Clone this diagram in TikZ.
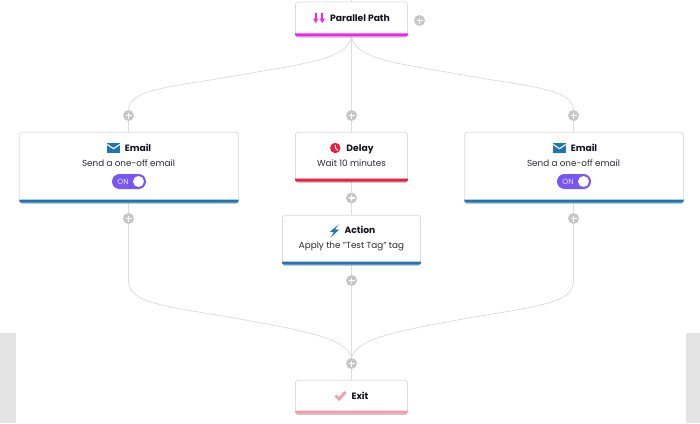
\documentclass[tikz,border=0pt]{standalone}
\usepackage{fontspec}
\setmainfont{Poppins}
\usetikzlibrary{shadows,backgrounds}
\definecolor{linegray}{HTML}{DDDDDD}
\definecolor{plusgray}{HTML}{C6C6C6}
\definecolor{edgegray}{HTML}{DCDCDC}
\definecolor{panelgray}{HTML}{E4E4E4}
\definecolor{inkdark}{HTML}{141420}
\definecolor{inksub}{HTML}{2A2A34}
\definecolor{bandmag}{HTML}{F322F3}
\definecolor{bandblue}{HTML}{1C75B4}
\definecolor{bandred}{HTML}{F2183F}
\definecolor{bandpink}{HTML}{F79BAA}
\definecolor{purple}{HTML}{7A55F5}
\tikzset{
  x=1pt,y=-1pt,
  cardbox/.style={draw=edgegray,line width=.8pt,fill=white,rounded corners=2.5pt,inner sep=0pt,
    drop shadow={shadow xshift=0pt,shadow yshift=-1.5pt,opacity=.22,fill=black}},
  plusnode/.style={circle,fill=plusgray,minimum size=11pt,inner sep=0pt,
    path picture={\draw[white,line width=1.3pt]
      ([xshift=-3pt]path picture bounding box.center)--([xshift=3pt]path picture bounding box.center)
      ([yshift=-3pt]path picture bounding box.center)--([yshift=3pt]path picture bounding box.center);}},
  wire/.style={draw=linegray,line width=.8pt},
  titletext/.style={font=\fontsize{9.2}{11}\selectfont\bfseries,text=inkdark,inner sep=0pt,anchor=base},
  subtext/.style={font=\fontsize{8.8}{10}\selectfont,text=inksub,inner sep=0pt,anchor=base},
  toggle/.style={fill=purple,rounded corners=7.5pt,minimum width=34pt,minimum height=15pt,inner sep=0pt},
  ontext/.style={font=\fontsize{7.5}{8}\selectfont,text=white!85!purple,inner sep=0pt},
  knob/.style={circle,fill=white,minimum size=11pt,inner sep=0pt},
}
\newcommand{\cardband}[2]{%
  \fill[#2] ([yshift=3pt]#1.south west) -- ([yshift=3pt]#1.south east)
    [rounded corners=1.5pt] -- (#1.south east) -- (#1.south west) [sharp corners] -- cycle;}
\newcommand{\mailicon}[2]{%
  \begin{scope}[shift={(#1,#2)}]
    \fill[bandblue] (0,0) rectangle (13,10);
    \draw[white,line width=1.1pt] (-.3,1.2) -- (6.5,5.6) -- (13.3,1.2);
  \end{scope}}
\begin{document}
\begin{tikzpicture}
\useasboundingbox (0,0) rectangle (700,423);
\fill[panelgray] (0,333) rectangle (16,423);
\fill[panelgray] (686,333) rectangle (700,423);

% cards
\node[cardbox,minimum width=112pt,minimum height=34pt] (par) at (351.5,19) {};
\node[cardbox,minimum width=218.5pt,minimum height=70pt] (maila) at (129,167.3) {};
\node[cardbox,minimum width=112pt,minimum height=49pt] (delay) at (351.5,156.8) {};
\node[cardbox,minimum width=218.5pt,minimum height=70pt] (mailb) at (574,167.3) {};
\node[cardbox,minimum width=138pt,minimum height=49pt] (action) at (351.5,239.8) {};
\node[cardbox,minimum width=112pt,minimum height=33pt] (exit) at (351.5,396.8) {};
\cardband{par}{bandmag}
\cardband{maila}{bandblue}
\cardband{delay}{bandred}
\cardband{mailb}{bandblue}
\cardband{action}{bandblue}
\cardband{exit}{bandpink}

% plus nodes
\node[plusnode] (pside) at (419.5,20.5) {};
\node[plusnode] (pa) at (128.5,115.5) {};
\node[plusnode] (pm) at (351.5,115.5) {};
\node[plusnode] (pb) at (573.5,115.5) {};
\node[plusnode] (pc) at (128.5,218.5) {};
\node[plusnode] (pd) at (351.5,198) {};
\node[plusnode] (pe) at (573.5,218.5) {};
\node[plusnode] (pf) at (351.5,280.5) {};
\node[plusnode] (pg) at (351.5,363.5) {};
\coordinate (topend) at (351.5,0);

% connectors
\begin{scope}[on background layer]
  \draw[wire] (topend) -- (par.north);
  \draw[wire] (par.south) -- (pm);
  \draw[wire] (pm) -- (delay.north);
  \draw[wire] (delay.south) -- (pd);
  \draw[wire] (pd) -- (action.north);
  \draw[wire] (action.south) -- (pf);
  \draw[wire] (pf) -- (pg);
  \draw[wire] (pg) -- (exit.north);
  \draw[wire] (pa) -- (maila.north -| pa);
  \draw[wire] (pb) -- (mailb.north -| pb);
  \draw[wire] (maila.south -| pc) -- (pc);
  \draw[wire] (mailb.south -| pe) -- (pe);
  \draw[wire] (par.south) .. controls (348,60) and (300,64) .. (240,75)
     .. controls (180,86) and (128.5,88) .. (pa.north);
  \draw[wire] (par.south) .. controls (355,60) and (403,64) .. (463,75)
     .. controls (523,86) and (573.5,88) .. (pb.north);
  \draw[wire] (pc.south) -- (128.5,282) .. controls (128.5,304) and (172,307) .. (240,319)
     .. controls (305,331) and (346,338) .. (pg.north);
  \draw[wire] (pe.south) -- (573.5,282) .. controls (573.5,304) and (531,307) .. (463,319)
     .. controls (398,331) and (357,338) .. (pg.north);
\end{scope}

% parallel path
\fill[bandmag] (313,18.5) -- (318.4,18.5) -- (315.7,23) -- cycle;
\draw[bandmag,line width=1.7pt] (315.7,13) -- (315.7,20);
\fill[bandmag] (319.6,18.5) -- (325,18.5) -- (322.3,23) -- cycle;
\draw[bandmag,line width=1.7pt] (322.3,13) -- (322.3,20);
\node[titletext] (partitle) at (360,21.6) {Parallel Path};

% emails
\mailicon{107}{143}
\node[titletext] (matitle) at (138,151.7) {Email};
\node[subtext] (masub) at (128.5,166.6) {Send a one-off email};
\node[toggle] (tga) at (129,181.5) {};
\node[ontext] (ona) at (123,181.5) {ON};
\node[knob] (kna) at (138.5,181.5) {};

\mailicon{553}{143}
\node[titletext] (mbtitle) at (584,151.7) {Email};
\node[subtext] (mbsub) at (573.5,166.6) {Send a one-off email};
\node[toggle] (tgb) at (574,181.5) {};
\node[ontext] (onb) at (568,181.5) {ON};
\node[knob] (knb) at (583.5,181.5) {};

% delay
\fill[bandred] (335.3,148) circle (5.2pt);
\draw[white,line width=.9pt] (335.3,144.8) -- (335.3,148) -- (338,150.5);
\node[titletext] (dltitle) at (360,151.5) {Delay};
\node[subtext] (dlsub) at (351.5,166.6) {Wait 10 minutes};

% action
\fill[bandblue] (338.5,224.5) -- (330,231.8) -- (333.8,232.2) -- (330.5,237.5) -- (339,229.8) -- (335,229.3) -- cycle;
\node[titletext] (actitle) at (360,233.7) {Action};
\node[subtext] (acsub) at (351.5,248.6) {Apply the "Test Tag" tag};

% exit
\draw[bandpink,line width=2.8pt] (335.5,395.5) -- (339,399) -- (345.5,392);
\node[titletext] (extitle) at (360,399.1) {Exit};
\end{tikzpicture}
\end{document}
